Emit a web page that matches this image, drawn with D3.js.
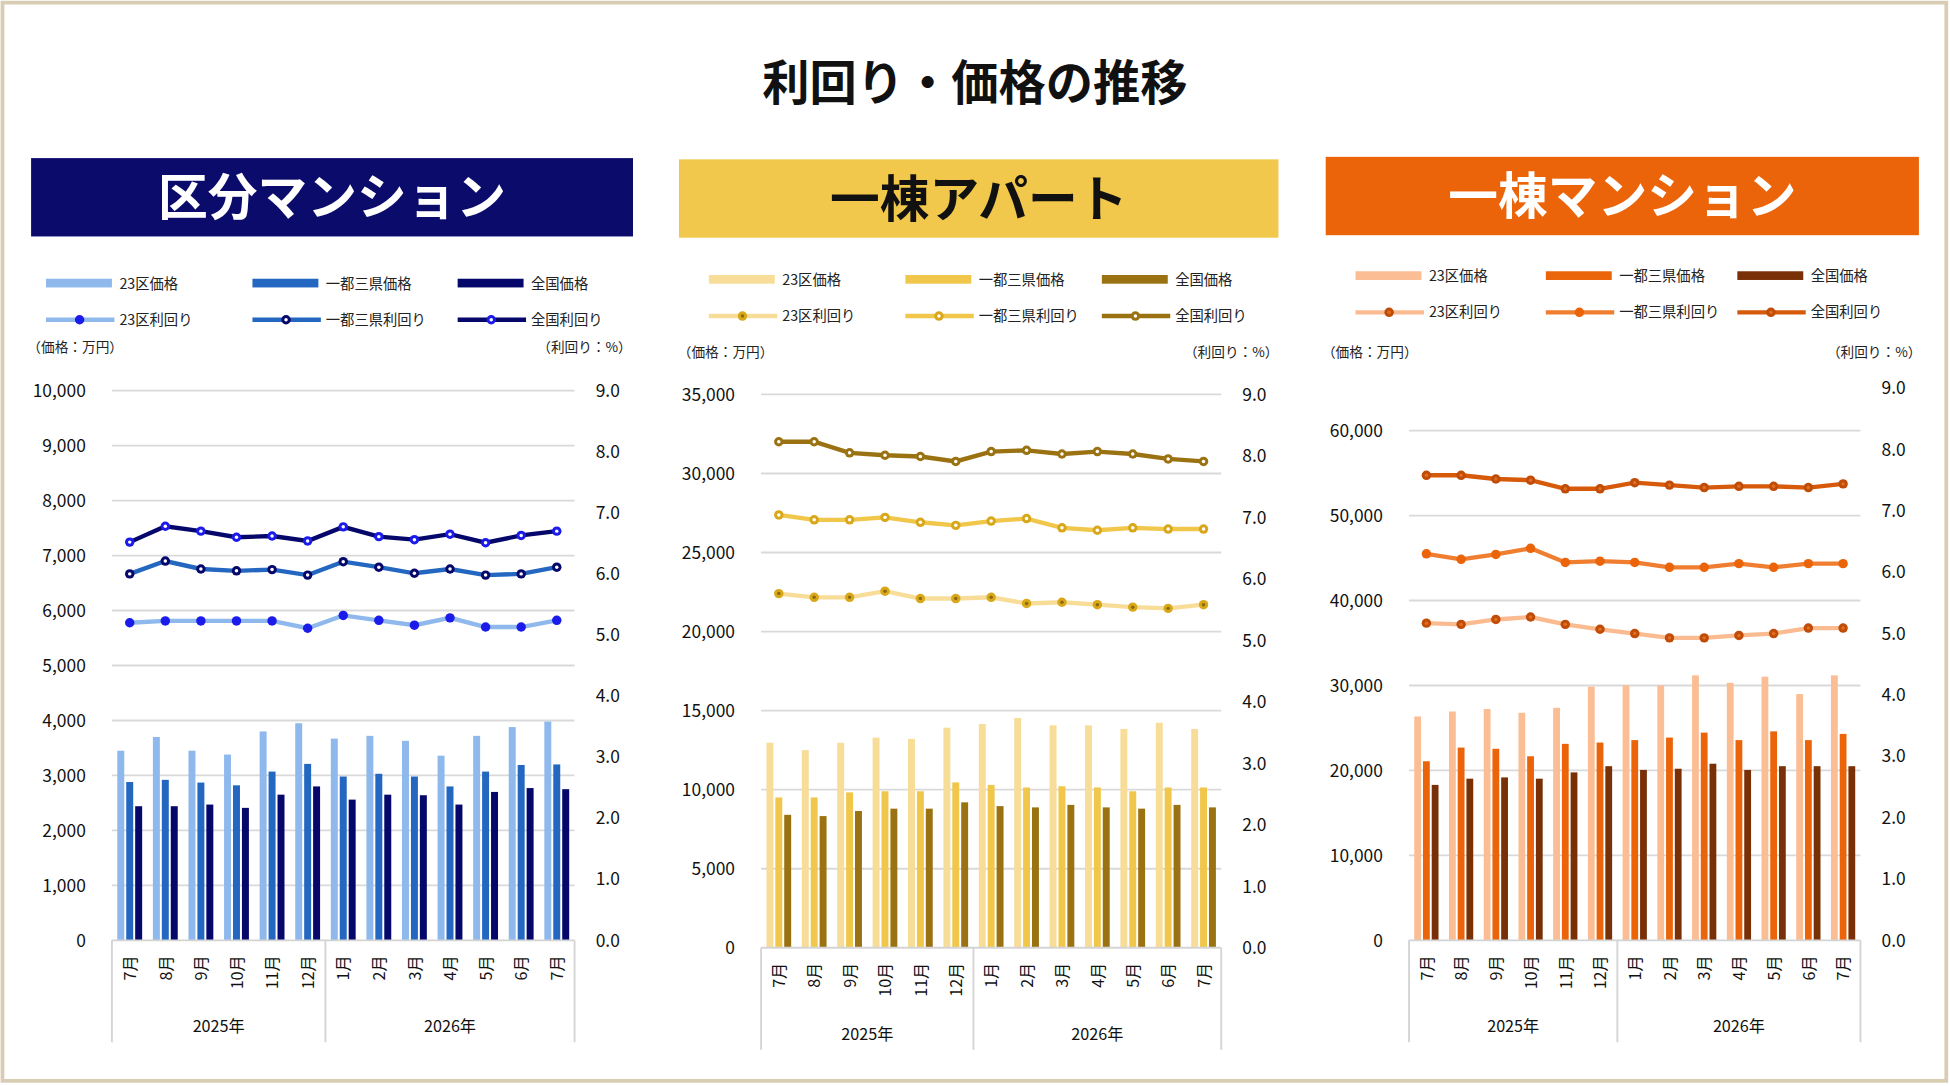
<!DOCTYPE html>
<html><head><meta charset="utf-8">
<script src="https://cdn.jsdelivr.net/npm/d3@7"></script>
<style>
body{margin:0;background:#fff;font-family:"Noto Sans CJK JP","Noto Sans",sans-serif;}
text{font-family:"Noto Sans CJK JP","Noto Sans",sans-serif;}
</style></head>
<body><svg id="c" width="1950" height="1086" viewBox="0 0 1568 873"></svg>
<script>
var months = ["7月","8月","9月","10月","11月","12月","1月","2月","3月","4月","5月","6月","7月"];
var years = ["2025年","2026年"];
var priceNames = ["23区価格","一都三県価格","全国価格"];
var yieldNames = ["23区利回り","一都三県利回り","全国利回り"];

// 区分マンション
var kubunPrice = [
  [3450,3700,3450,3380,3800,3950,3670,3720,3630,3360,3720,3880,3980],
  [2880,2920,2870,2820,3070,3210,2980,3030,2980,2800,3070,3190,3200],
  [2440,2440,2470,2410,2650,2800,2560,2650,2640,2470,2700,2770,2750]];
var kubunYield = [
  [5.20,5.23,5.23,5.23,5.23,5.11,5.32,5.24,5.16,5.28,5.13,5.13,5.24],
  [6.00,6.21,6.08,6.05,6.07,5.98,6.20,6.11,6.01,6.08,5.98,6.00,6.11],
  [6.52,6.78,6.70,6.60,6.62,6.54,6.77,6.61,6.56,6.65,6.51,6.63,6.70]];
// 一棟アパート
var apartPrice = [
  [12970,12500,12970,13290,13210,13920,14150,14540,14070,14070,13840,14230,13840],
  [9510,9510,9830,9900,9900,10460,10300,10140,10220,10140,9900,10140,10140],
  [8410,8330,8650,8800,8800,9200,8960,8880,9040,8880,8800,9040,8880]];
var apartYield = [
  [5.76,5.70,5.70,5.80,5.68,5.68,5.70,5.60,5.62,5.58,5.54,5.52,5.58],
  [7.04,6.96,6.96,7.00,6.92,6.87,6.94,6.98,6.83,6.79,6.83,6.81,6.81],
  [8.23,8.23,8.05,8.01,7.99,7.91,8.07,8.09,8.03,8.07,8.03,7.95,7.91]];
// 一棟マンション
var mansionPrice = [
  [26350,26940,27230,26790,27380,29870,30010,30010,31190,30310,31040,28990,31190],
  [21080,22690,22550,21670,23130,23280,23570,23870,24450,23570,24600,23570,24300],
  [18300,19030,19180,19030,19770,20500,20060,20200,20790,20060,20500,20500,20500]];
var mansionYield = [
  [5.17,5.15,5.23,5.27,5.15,5.07,5.00,4.93,4.93,4.97,5.00,5.09,5.09],
  [6.30,6.21,6.29,6.39,6.16,6.18,6.16,6.08,6.08,6.14,6.08,6.14,6.14],
  [7.58,7.58,7.52,7.50,7.36,7.36,7.46,7.42,7.38,7.40,7.40,7.38,7.44]];

var svg = d3.select("#c");
svg.append("rect").attr("x",2).attr("y",2).attr("width",1563).attr("height",867)
  .attr("fill","#fff").attr("stroke","#d8cdb2").attr("stroke-width",3);
svg.append("text").text("利回り・価格の推移").attr("x",784).attr("y",80)
  .attr("text-anchor","middle").attr("font-size",38).attr("font-weight","bold").attr("fill","#111");

var panels = [
  {title:"区分マンション", hx:25,hy:127,hw:484,hbg:"#0b0b6b",hfg:"#fff",
   legY:228, legX:[37,203,368], unitY:283, unitL:22, unitR:508,
   px0:90,px1:462,py0:314,py1:756, pmax:10000, pstep:1000,
   barC:["#8fb9ec","#2367c1","#05086a"],
   lineC:["#8fb9ec","#2367c1","#05086a"],
   mFill:["#1b1bea","#05086a","#1b1bea"], mDot:["#1b1bea","#fff","#fff"],
   price:kubunPrice, yld:kubunYield},
  {title:"一棟アパート", hx:546,hy:128,hw:482,hbg:"#f1c84b",hfg:"#111",
   legY:225, legX:[570,728,886], unitY:287, unitL:545, unitR:1028,
   px0:612,px1:982,py0:317,py1:762, pmax:35000, pstep:5000,
   barC:["#f8dd98","#f0c74b","#9a7212"],
   lineC:["#f8dd98","#f0c74b","#9a7212"],
   mFill:["#d9a81a","#d9a81a","#9a7212"], mDot:["#8a6a10","#fff","#fff"],
   price:apartPrice, yld:apartYield},
  {title:"一棟マンション", hx:1066,hy:126,hw:477,hbg:"#eb6409",hfg:"#fff",
   legY:222, legX:[1090,1243,1397], unitY:287, unitL:1063, unitR:1545,
   px0:1133,px1:1496,py0:312,py1:756, pmax:65000, pstep:10000, ptop:60000,
   barC:["#fbbd94","#eb6409","#7a3006"],
   lineC:["#fbbb90","#f07e30","#d65a0a"],
   mFill:["#c04c08","#eb6409","#c04c08"], mDot:["#e07020","#eb6409","#e07020"],
   price:mansionPrice, yld:mansionYield}
];

panels.forEach(function(p){
  var g = svg.append("g");
  g.append("rect").attr("x",p.hx).attr("y",p.hy).attr("width",p.hw).attr("height",63).attr("fill",p.hbg);
  g.append("text").text(p.title).attr("x",p.hx+p.hw/2).attr("y",p.hy+46)
    .attr("text-anchor","middle").attr("font-size",40).attr("font-weight","bold").attr("fill",p.hfg);

  // legend
  for(var i=0;i<3;i++){
    var lx=p.legX[i];
    g.append("rect").attr("x",lx).attr("y",p.legY-4).attr("width",53).attr("height",7).attr("fill",p.barC[i]);
    g.append("text").text(priceNames[i]).attr("x",lx+59).attr("y",p.legY+4).attr("font-size",11.5).attr("fill","#222");
    var ly=p.legY+29;
    g.append("line").attr("x1",lx).attr("x2",lx+55).attr("y1",ly).attr("y2",ly).attr("stroke",p.lineC[i]).attr("stroke-width",3.5);
    g.append("circle").attr("cx",lx+27).attr("cy",ly).attr("r",3.8).attr("fill",p.mFill[i]);
    g.append("circle").attr("cx",lx+27).attr("cy",ly).attr("r",1.4).attr("fill",p.mDot[i]);
    g.append("text").text(yieldNames[i]).attr("x",lx+59).attr("y",ly+4).attr("font-size",11.5).attr("fill","#222");
  }
  g.append("text").text("（価格：万円）").attr("x",p.unitL).attr("y",p.unitY).attr("font-size",11).attr("fill","#222");
  g.append("text").text("（利回り：%）").attr("x",p.unitR).attr("y",p.unitY).attr("text-anchor","end").attr("font-size",11).attr("fill","#222");

  var yP = d3.scaleLinear().domain([0,p.pmax]).range([p.py1,p.py0]);
  var yR = d3.scaleLinear().domain([0,9]).range([p.py1,p.py0]);
  var x = d3.scaleBand().domain(d3.range(13)).range([p.px0,p.px1]);
  var xs = d3.scaleBand().domain([0,1,2]).range([0,x.bandwidth()]).paddingInner(0.22).paddingOuter(0.6);

  var top = p.ptop || p.pmax;
  var pt = d3.range(0, top+1, p.pstep);
  g.selectAll(".grid").data(pt.slice(1)).enter().append("line")
    .attr("x1",p.px0).attr("x2",p.px1).attr("y1",yP).attr("y2",yP)
    .attr("stroke","#d9d9d9").attr("stroke-width",1.5);
  var la = g.append("g").attr("transform","translate("+(p.px0-18)+",0)")
    .call(d3.axisLeft(yP).tickValues(pt).tickFormat(d3.format(",")).tickSize(0));
  la.select(".domain").remove();
  la.selectAll("text").attr("font-size",14).attr("fill","#111");
  var ra = g.append("g").attr("transform","translate("+(p.px1+14)+",0)")
    .call(d3.axisRight(yR).tickValues(d3.range(0,9.01,1)).tickFormat(d3.format(".1f")).tickSize(0));
  ra.select(".domain").remove();
  ra.selectAll("text").attr("font-size",14).attr("fill","#111");

  // bars
  p.price.forEach(function(ser,si){
    g.selectAll(".b"+si).data(ser).enter().append("rect")
      .attr("x",function(d,i){return x(i)+xs(si);}).attr("width",xs.bandwidth())
      .attr("y",function(d){return yP(d);}).attr("height",function(d){return p.py1-yP(d);})
      .attr("fill",p.barC[si]);
  });
  // lines
  p.yld.forEach(function(ser,si){
    var line = d3.line().x(function(d,i){return x(i)+x.bandwidth()/2;}).y(function(d){return yR(d);});
    g.append("path").datum(ser).attr("d",line).attr("fill","none").attr("stroke",p.lineC[si]).attr("stroke-width",3.5);
    g.selectAll(".m"+si).data(ser).enter().append("circle")
      .attr("cx",function(d,i){return x(i)+x.bandwidth()/2;}).attr("cy",function(d){return yR(d);})
      .attr("r",3.8).attr("fill",p.mFill[si]);
    g.selectAll(".d"+si).data(ser).enter().append("circle")
      .attr("cx",function(d,i){return x(i)+x.bandwidth()/2;}).attr("cy",function(d){return yR(d);})
      .attr("r",1.4).attr("fill",p.mDot[si]);
  });

  // x axis
  var ax="#d4d4d4";
  g.append("line").attr("x1",p.px0).attr("x2",p.px1).attr("y1",p.py1).attr("y2",p.py1).attr("stroke",ax).attr("stroke-width",1.5);
  [0,6,13].forEach(function(k){
    var xx = k==13 ? p.px1 : x(k);
    g.append("line").attr("x1",xx).attr("x2",xx).attr("y1",p.py1).attr("y2",p.py1+82).attr("stroke",ax).attr("stroke-width",1.5);
  });
  months.forEach(function(m,i){
    var cx = x(i)+x.bandwidth()/2;
    g.append("text").text(m).attr("transform","translate("+(cx+5)+","+(p.py1+12)+") rotate(-90)")
      .attr("text-anchor","end").attr("font-size",13).attr("fill","#111");
  });
  years.forEach(function(yv,k){
    var a = k==0 ? x(0) : x(6), b = k==0 ? x(6) : p.px1;
    g.append("text").text(yv).attr("x",(a+b)/2).attr("y",p.py1+74).attr("text-anchor","middle").attr("font-size",13).attr("fill","#111");
  });
});
</script></body></html>
